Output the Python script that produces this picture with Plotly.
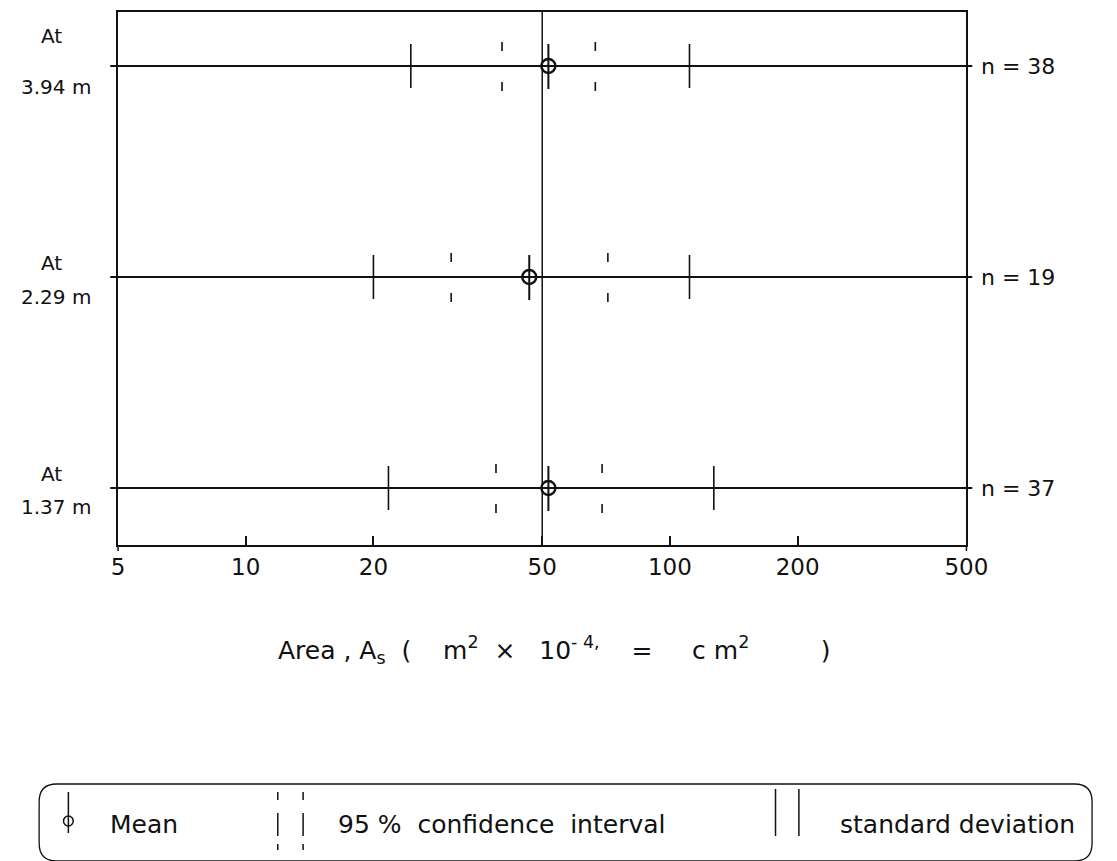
import plotly.graph_objects as go
import math

# ---------------- data ----------------
heights = ["3.94 m", "2.29 m", "1.37 m"]
n_counts = [38, 19, 37]
mean_area = [51.7, 46.6, 51.7]
ci_low = [40.2, 30.5, 38.9]
ci_high = [66.7, 71.4, 69.2]
sd_low = [24.5, 20.0, 21.7]
sd_high = [111.2, 111.2, 126.9]
row_pos = [3, 2, 1]
ref_area = 50
x_ticks = [5, 10, 20, 50, 100, 200, 500]
x_ticktext = ["5", "10", "20", "50", "100", "200", "500"]

# ---------------- layout geometry (pixels) ----------------
W, H = 1117, 861
PX_L, PX_R, PX_T, PX_B = 114, 985, 12, 545
ROW_PX = (66, 488)  # pixel of top & bottom rows
unit_px = (ROW_PX[1] - ROW_PX[0]) / (max(row_pos) - min(row_pos))
y_top = max(row_pos) + (ROW_PX[0] - PX_T) / unit_px
y_bot = min(row_pos) - (PX_B - ROW_PX[1]) / unit_px

def px2u(p):
    return p / unit_px

FONT = "DejaVu Sans"
INK = "#111111"

fig = go.Figure()

# reference line at 50
fig.add_trace(go.Scatter(x=[ref_area, ref_area], y=[y_bot, y_top], mode="lines",
                         line=dict(color=INK, width=1.5), hoverinfo="skip", showlegend=False))

# standard deviation ticks (solid)
sx, sy = [], []
h_sd = px2u(22)
for r, lo, hi in zip(row_pos, sd_low, sd_high):
    for v in (lo, hi):
        sx += [v, v, None]
        sy += [r - h_sd, r + h_sd, None]
fig.add_trace(go.Scatter(x=sx, y=sy, mode="lines", line=dict(color=INK, width=1.6),
                         hoverinfo="skip", showlegend=False))

# 95% confidence interval ticks (broken)
cx, cy = [], []
for r, lo, hi in zip(row_pos, ci_low, ci_high):
    for v in (lo, hi):
        cx += [v, v, None, v, v, None]
        cy += [r + px2u(15), r + px2u(24), None, r - px2u(16), r - px2u(25), None]
fig.add_trace(go.Scatter(x=cx, y=cy, mode="lines", line=dict(color=INK, width=1.6),
                         hoverinfo="skip", showlegend=False))

# mean: vertical stroke + open circle
mx, my = [], []
for r, m in zip(row_pos, mean_area):
    mx += [m, m, None]
    my += [r - px2u(23), r + px2u(22), None]
fig.add_trace(go.Scatter(x=mx, y=my, mode="lines", line=dict(color=INK, width=2),
                         hoverinfo="skip", showlegend=False))
fig.add_trace(go.Scatter(x=mean_area, y=row_pos, mode="markers",
                         marker=dict(symbol="circle-open", size=14, color=INK, line=dict(width=2.4)),
                         hoverinfo="skip", showlegend=False))

shapes = []
plot_w = PX_R - PX_L
plot_h = PX_B - PX_T
# row baselines (extend slightly past the frame)
for r in row_pos:
    shapes.append(dict(type="line", xref="x domain", yref="y", x0=-8 / plot_w, x1=1 + 6 / plot_w,
                       y0=r, y1=r, line=dict(color=INK, width=2), layer="below"))
# frame corners extend a little below the axis at 5 and 500
for xd in (0, 1):
    shapes.append(dict(type="line", xref="x domain", yref="y domain", x0=xd, x1=xd,
                       y0=0, y1=-6 / plot_h, line=dict(color=INK, width=1.5)))

annotations = []
for r, h, n, s_at, s_h in zip(row_pos, heights, n_counts, [30, 14, 14], [-21, -20, -19]):
    annotations.append(dict(xref="paper", yref="y", x=46 / W, y=r, yshift=s_at, text="At",
                            showarrow=False, xanchor="center", yanchor="middle",
                            font=dict(family=FONT, size=20, color=INK)))
    annotations.append(dict(xref="paper", yref="y", x=50 / W, y=r, yshift=s_h, text=h,
                            showarrow=False, xanchor="center", yanchor="middle",
                            font=dict(family=FONT, size=20, color=INK)))
    annotations.append(dict(xref="paper", yref="y", x=998 / W, y=r, text=f"n = {n}",
                            showarrow=False, xanchor="left", yanchor="middle",
                            font=dict(family=FONT, size=22, color=INK)))

NB = "\u00a0"
title = ("Area" + NB + "," + NB + "A<sub>s</sub>" + NB * 2 + "(" + NB * 4 + "m<sup>2</sup>" + NB * 2 +
         "×" + NB * 3 + "10<sup>-" + NB + "4,</sup>" + NB * 4 + "=" + NB * 5 + "c" + NB + "m<sup>2</sup>" +
         NB * 9 + ")")
annotations.append(dict(xref="paper", yref="paper", x=562 / W, y=1 - 650 / H, text=title,
                        showarrow=False, xanchor="center", yanchor="middle",
                        font=dict(family=FONT, size=25, color=INK)))

# ---------------- legend box (drawn) ----------------
def P(x, y):
    return f"{x / W:.5f},{1 - y / H:.5f}"

bx0, bx1, by0, by1, rad = 33, 1114, 784, 861, 18
path = (f"M {P(bx0 + rad, by0)} L {P(bx1 - rad, by0)} Q {P(bx1, by0)} {P(bx1, by0 + rad)} "
        f"L {P(bx1, by1 - rad)} Q {P(bx1, by1)} {P(bx1 - rad, by1)} "
        f"L {P(bx0 + rad, by1)} Q {P(bx0, by1)} {P(bx0, by1 - rad)} "
        f"L {P(bx0, by0 + rad)} Q {P(bx0, by0)} {P(bx0 + rad, by0)} Z")
shapes.append(dict(type="path", xref="paper", yref="paper", path=path,
                   line=dict(color=INK, width=1.3)))

def vseg(x, y0, y1, w=1.5):
    shapes.append(dict(type="line", xref="paper", yref="paper", x0=x / W, x1=x / W,
                       y0=1 - y0 / H, y1=1 - y1 / H, line=dict(color=INK, width=w)))

# mean symbol
vseg(63, 792, 833, 1.5)
shapes.append(dict(type="circle", xref="paper", yref="paper", x0=58 / W, x1=68 / W,
                   y0=1 - 826 / H, y1=1 - 816 / H, line=dict(color=INK, width=1.5)))
# CI symbol
for xx in (278, 304):
    vseg(xx, 792, 800)
    vseg(xx, 813, 836)
    vseg(xx, 844, 850)
# SD symbol
for xx in (789, 813):
    vseg(xx, 789, 836)

LEG_Y = 1 - 824 / H
for xx, txt in [(104, "Mean"), (338, "95" + NB + "%" + NB * 2 + "confidence" + NB * 2 + "interval"),
                (853, "standard" + NB + "deviation")]:
    annotations.append(dict(xref="paper", yref="paper", x=xx / W, y=LEG_Y, text=txt,
                            showarrow=False, xanchor="left", yanchor="middle",
                            font=dict(family=FONT, size=25, color=INK)))

fig.update_layout(
    width=W, height=H,
    margin=dict(l=0, r=0, t=0, b=0),
    paper_bgcolor="white", plot_bgcolor="white",
    showlegend=False,
    xaxis=dict(type="log", range=[math.log10(5), math.log10(500)],
               domain=[PX_L / W, PX_R / W],
               tickvals=x_ticks, ticktext=x_ticktext, ticks="inside", ticklen=9,
               tickwidth=1.5, tickcolor=INK,
               showline=True, linecolor=INK, linewidth=1.8, mirror=True,
               showgrid=False, zeroline=False,
               tickfont=dict(family=FONT, size=23, color=INK)),
    yaxis=dict(range=[y_bot, y_top], domain=[1 - PX_B / H, 1 - PX_T / H],
               showticklabels=False, ticks="", showgrid=False, zeroline=False,
               showline=True, linecolor=INK, linewidth=1.8, mirror=True),
    shapes=shapes,
    annotations=annotations,
)

fig.write_html("out.html")
